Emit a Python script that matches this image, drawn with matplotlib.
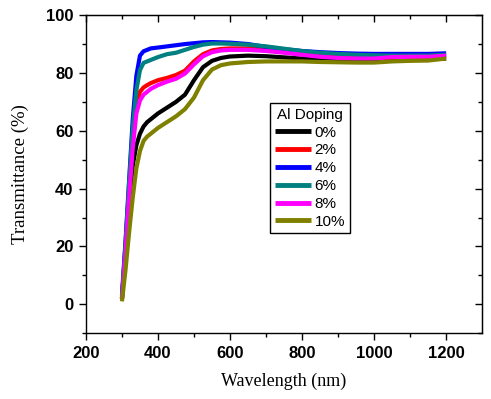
import matplotlib
matplotlib.use("Agg")
import matplotlib.pyplot as plt

wavelength = [300, 310, 320, 330, 340, 350, 360, 370, 380, 400, 425, 450, 475, 500,
              525, 550, 575, 600, 650, 700, 750, 800, 850, 900, 950, 1000, 1050,
              1100, 1150, 1200]

t_0 = [2, 17, 34, 48, 55, 59, 61.5, 63, 64, 66, 68, 70, 72.5, 77.5, 82, 84.2, 85.2,
       85.7, 86, 85.8, 85.4, 85, 84.6, 84.4, 84.4, 84.5, 84.6, 84.7, 84.8, 85]
t_2 = [2, 20, 40, 58, 69, 73.5, 75, 75.8, 76.5, 77.5, 78.3, 79.3, 80.8, 84, 86.5, 87.8,
       88.3, 88.5, 88.5, 88, 87.2, 86.5, 86, 85.6, 85.4, 85.3, 85.3, 85.3, 85.4, 85.6]
t_4 = [3, 22, 43, 64, 79, 86, 87.5, 88, 88.5, 88.8, 89.2, 89.6, 90, 90.3, 90.6, 90.7,
       90.6, 90.5, 90, 89, 88.2, 87.6, 87.2, 86.9, 86.7, 86.6, 86.6, 86.6, 86.6, 86.8]
t_6 = [2, 21, 42, 61, 74, 81, 83.5, 84, 84.5, 85.5, 86.5, 87, 88, 89, 89.8, 90.2, 90.2,
       90.1, 89.8, 89.2, 88.4, 87.6, 87, 86.6, 86.3, 86.1, 86, 86, 86, 86.3]
t_8 = [2, 18, 37, 54, 66, 70.5, 72.5, 73.5, 74.5, 75.8, 77, 78, 79.8, 83, 85.8, 87.2,
       87.8, 88, 88, 87.6, 87, 86.3, 85.6, 85.2, 85, 85, 85.5, 85.6, 85.6, 86]
t_10 = [1, 12, 25, 37, 47, 53, 56.5, 58, 59, 61, 63, 65, 67.5, 71.5, 77.5, 81.2, 82.7,
        83.3, 83.8, 84, 84, 84, 83.8, 83.7, 83.6, 83.6, 84, 84.2, 84.3, 85]

labels = ["0%", "2%", "4%", "6%", "8%", "10%"]
colors = ["#000000", "#ff0000", "#0000ff", "#008080", "#ff00ff", "#808000"]
series = [t_0, t_2, t_4, t_6, t_8, t_10]

fig = plt.figure(figsize=(4.91, 3.99), dpi=100)
ax = fig.add_axes([0.175, 0.165, 0.807, 0.797])

for vals, lab, c in zip(series, labels, colors):
    ax.plot(wavelength, vals, color=c, lw=3, label=lab, solid_capstyle="butt")

ax.set_xlim(200, 1300)
ax.set_ylim(-10, 100)
ax.set_xticks([200, 400, 600, 800, 1000, 1200])
ax.set_yticks([0, 20, 40, 60, 80, 100])
ax.set_xticks(range(300, 1300, 200), minor=True)
ax.set_yticks(range(-10, 100, 20), minor=True)
ax.tick_params(which="major", direction="out", length=5, width=1,
               labelsize=12, pad=4)
ax.tick_params(which="minor", direction="out", length=3, width=1)
for lab in ax.get_xticklabels() + ax.get_yticklabels():
    lab.set_fontweight("bold")
    lab.set_fontfamily("Liberation Sans")

for s in ax.spines.values():
    s.set_linewidth(1)

top = ax.secondary_xaxis("top")
top.set_xticks([200, 400, 600, 800, 1000, 1200])
top.set_xticks(range(300, 1300, 200), minor=True)
top.tick_params(which="major", direction="in", length=5, width=1, labeltop=False)
top.tick_params(which="minor", direction="in", length=3, width=1)
right = ax.secondary_yaxis("right")
right.set_yticks([0, 20, 40, 60, 80, 100])
right.set_yticks(range(-10, 100, 20), minor=True)
right.tick_params(which="major", direction="in", length=5, width=1, labelright=False)
right.tick_params(which="minor", direction="in", length=3, width=1)

ax.set_xlabel("Wavelength (nm)", fontfamily="Liberation Serif", fontsize=13, labelpad=9)
ax.set_ylabel("Transmittance (%)", fontfamily="Liberation Serif", fontsize=13.5, labelpad=12)

leg = ax.legend(title="Al Doping", loc="upper left", bbox_to_anchor=(0.465, 0.723),
                prop={"family": "Liberation Sans", "size": 11},
                title_fontproperties={"family": "Liberation Sans", "size": 11},
                frameon=True, fancybox=False, edgecolor="black", framealpha=1,
                handlelength=2.4, handletextpad=0.2, labelspacing=0.25,
                borderpad=0.3, borderaxespad=0)
leg.get_frame().set_linewidth(1)
for line in leg.get_lines():
    line.set_linewidth(3.5)

fig.savefig("out.png", dpi=100)
